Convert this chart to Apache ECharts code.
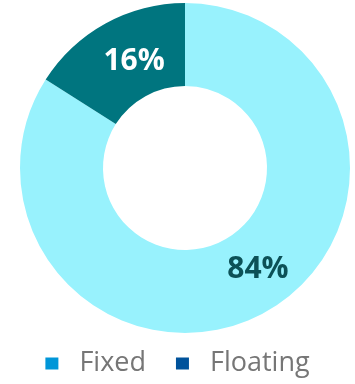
<!DOCTYPE html>
<html>
<head>
<meta charset="utf-8">
<style>
  html, body { margin: 0; padding: 0; background: #ffffff; }
  #chart { width: 355px; height: 384px; }
</style>
<script src="https://cdn.jsdelivr.net/npm/echarts@6/dist/echarts.min.js"></script>
</head>
<body>
<div id="chart"></div>
<script>
// Rate mix shares (percent)
const categories = ['Fixed', 'Floating'];
const shares = [84, 16];

const sliceColors = ['#98F2FD', '#00757F'];
const legendColors = ['#0096D8', '#00529B'];
const labelColors = ['#0C5157', '#FFFFFF'];
const labelOffsets = [[12, -9], [10, 4]];

const chart = echarts.init(document.getElementById('chart'), null, { renderer: 'canvas' });

chart.setOption({
  animation: false,
  legend: {
    top: 345,
    left: 'center',
    icon: 'rect',
    itemWidth: 13,
    itemHeight: 12,
    itemGap: 30,
    selectedMode: false,
    textStyle: {
      fontFamily: 'Open Sans',
      fontSize: 27,
      color: '#767676',
      padding: [0, 0, 0, 16]
    },
    data: categories.map((name, i) => ({
      name: name,
      itemStyle: { color: legendColors[i] }
    }))
  },
  series: [{
    type: 'pie',
    center: [185, 168],
    radius: [82, 165],
    startAngle: 90,
    clockwise: true,
    silent: true,
    emphasis: { disabled: true },
    labelLine: { show: false },
    data: categories.map((name, i) => ({
      name: name,
      value: shares[i],
      itemStyle: { color: sliceColors[i] },
      label: {
        show: true,
        position: 'inside',
        formatter: p => p.value + '%',
        fontFamily: 'Open Sans',
        fontWeight: 'bold',
        fontSize: 30,
        color: labelColors[i],
        offset: labelOffsets[i]
      }
    }))
  }]
});
</script>
</body>
</html>
